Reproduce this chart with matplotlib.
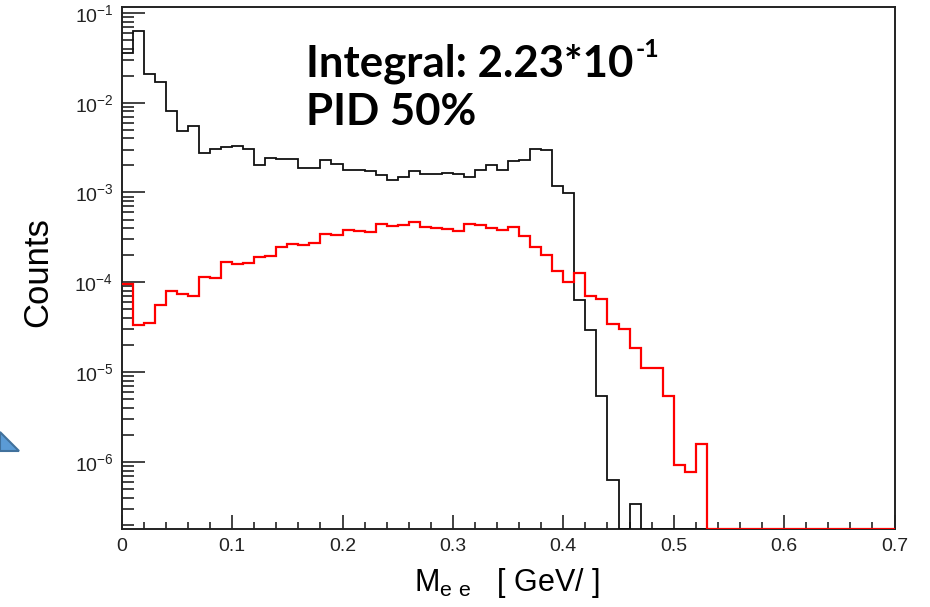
import matplotlib
matplotlib.use("Agg")

import matplotlib.pyplot as plt
import numpy as np
from matplotlib.patches import Polygon
from matplotlib.ticker import LogLocator, NullFormatter, FixedLocator, MultipleLocator

# 70 bins of 0.01 GeV from 0 to 0.7
bin_edges = np.linspace(0.0, 0.7, 71)

black_counts = [
    0.0357, 0.0624, 0.0210, 0.0168, 0.00815, 0.00479, 0.00555, 0.00272, 0.00301, 0.00320,
    0.00329, 0.00301, 0.00200, 0.00239, 0.00236, 0.00236, 0.00185, 0.00185, 0.00228, 0.00205,
    0.00176, 0.00179, 0.00173, 0.00157, 0.00137, 0.00148, 0.00173, 0.00159, 0.00159, 0.00164,
    0.00159, 0.00150, 0.00176, 0.00200, 0.00178, 0.00225, 0.00230, 0.00301, 0.00294, 0.00118,
    0.000993, 6.37e-5, 2.94e-5, 5.46e-6, 6.27e-7, 0, 3.44e-7, 0, 0, 0,
    0, 0, 0, 0, 0, 0, 0, 0, 0, 0,
    0, 0, 0, 0, 0, 0, 0, 0, 0, 0,
]

red_counts = [
    9.66e-5, 3.33e-5, 3.50e-5, 5.63e-5, 8.07e-5, 7.42e-5, 7.11e-5, 1.16e-4, 1.12e-4, 1.70e-4,
    1.59e-4, 1.63e-4, 1.91e-4, 1.95e-4, 2.50e-4, 2.66e-4, 2.57e-4, 2.75e-4, 3.49e-4, 3.36e-4,
    3.80e-4, 3.77e-4, 3.67e-4, 4.48e-4, 4.25e-4, 4.40e-4, 4.71e-4, 4.18e-4, 4.04e-4, 3.91e-4,
    3.77e-4, 4.48e-4, 4.37e-4, 4.07e-4, 3.84e-4, 4.15e-4, 3.29e-4, 2.46e-4, 2.00e-4, 1.33e-4,
    1.02e-4, 1.28e-4, 7.11e-5, 6.49e-5, 3.44e-5, 3.02e-5, 1.87e-5, 1.10e-5, 1.10e-5, 5.46e-6,
    9.2e-7, 7.76e-7, 1.59e-6, 0, 0, 0, 0, 0, 0, 0,
    0, 0, 0, 0, 0, 0, 0, 0, 0, 0,
]

x_ticks = [0.0, 0.1, 0.2, 0.3, 0.4, 0.5, 0.6, 0.7]
x_tick_labels = ["0", "0.1", "0.2", "0.3", "0.4", "0.5", "0.6", "0.7"]

plt.rcParams['font.family'] = 'Liberation Sans'
plt.rcParams['mathtext.default'] = 'regular'
plt.rcParams['axes.unicode_minus'] = False

W, H = 930, 607
fig = plt.figure(figsize=(W / 100, H / 100), dpi=100)
ax = fig.add_axes([121.7 / W, 1 - 529.3 / H, (894.5 - 121.7) / W, (529.3 - 6.7) / H])

ylo, yhi = 1.78e-7, 0.117
ax.stairs(np.clip(black_counts, ylo, None), bin_edges, baseline=None,
          color='#111111', lw=1.3, zorder=3)
ax.stairs(np.clip(red_counts, ylo, None), bin_edges, baseline=None,
          color='#ff0000', lw=1.6, zorder=4)

ax.set_yscale('log')
ax.set_xlim(0, 0.7)
ax.set_ylim(ylo, yhi)

ax.xaxis.set_major_locator(FixedLocator(x_ticks))
ax.set_xticklabels(x_tick_labels)
ax.xaxis.set_minor_locator(MultipleLocator(0.02))
ax.yaxis.set_major_locator(LogLocator(base=10))
ax.yaxis.set_minor_locator(LogLocator(base=10, subs=np.arange(2, 10)))
ax.yaxis.set_minor_formatter(NullFormatter())

ax.tick_params(axis='both', which='both', direction='in', colors='#222222', width=1.2,
               top=False, right=False, labelsize=14)
ax.tick_params(axis='x', which='major', length=10.3, pad=6)
ax.tick_params(axis='x', which='minor', length=5)
ax.tick_params(axis='y', which='major', length=16.3, pad=6)
ax.tick_params(axis='y', which='minor', length=8.6)
for s in ax.spines.values():
    s.set_linewidth(1.4)
    s.set_color('#222222')

fig.text(38 / W, 1 - 272.5 / H, "Counts", rotation=90, ha='center', va='center', fontsize=25)
fig.text(507 / W, 1 - 583 / H, r"M$_{e\ e}$   [ GeV/ ]", ha='center', va='center', fontsize=22)

t1 = fig.text(306 / W, 1 - 76.7 / H, "Integral: 2.23*10", fontfamily='Lato', fontweight='bold',
              fontsize=31.5, va='baseline')
fig.text(306 / W, 1 - 125 / H, "PID 50%", fontfamily='Lato', fontweight='bold',
         fontsize=31.5, va='baseline')
fig.canvas.draw()
bb = t1.get_window_extent()
fig.text((bb.x1 + 2) / W, 1 - 56.7 / H, "-1", fontfamily='Lato', fontweight='bold',
         fontsize=18, va='baseline')

# piece of the slide arrow at the left edge
fig.patches.append(Polygon([[0, 1 - 432 / H], [19 / W, 1 - 451 / H], [0, 1 - 451 / H]],
                           closed=True, transform=fig.transFigure, facecolor='#5b9bd5',
                           edgecolor='#41719c', lw=1.5))

fig.savefig("out.png", dpi=100)
